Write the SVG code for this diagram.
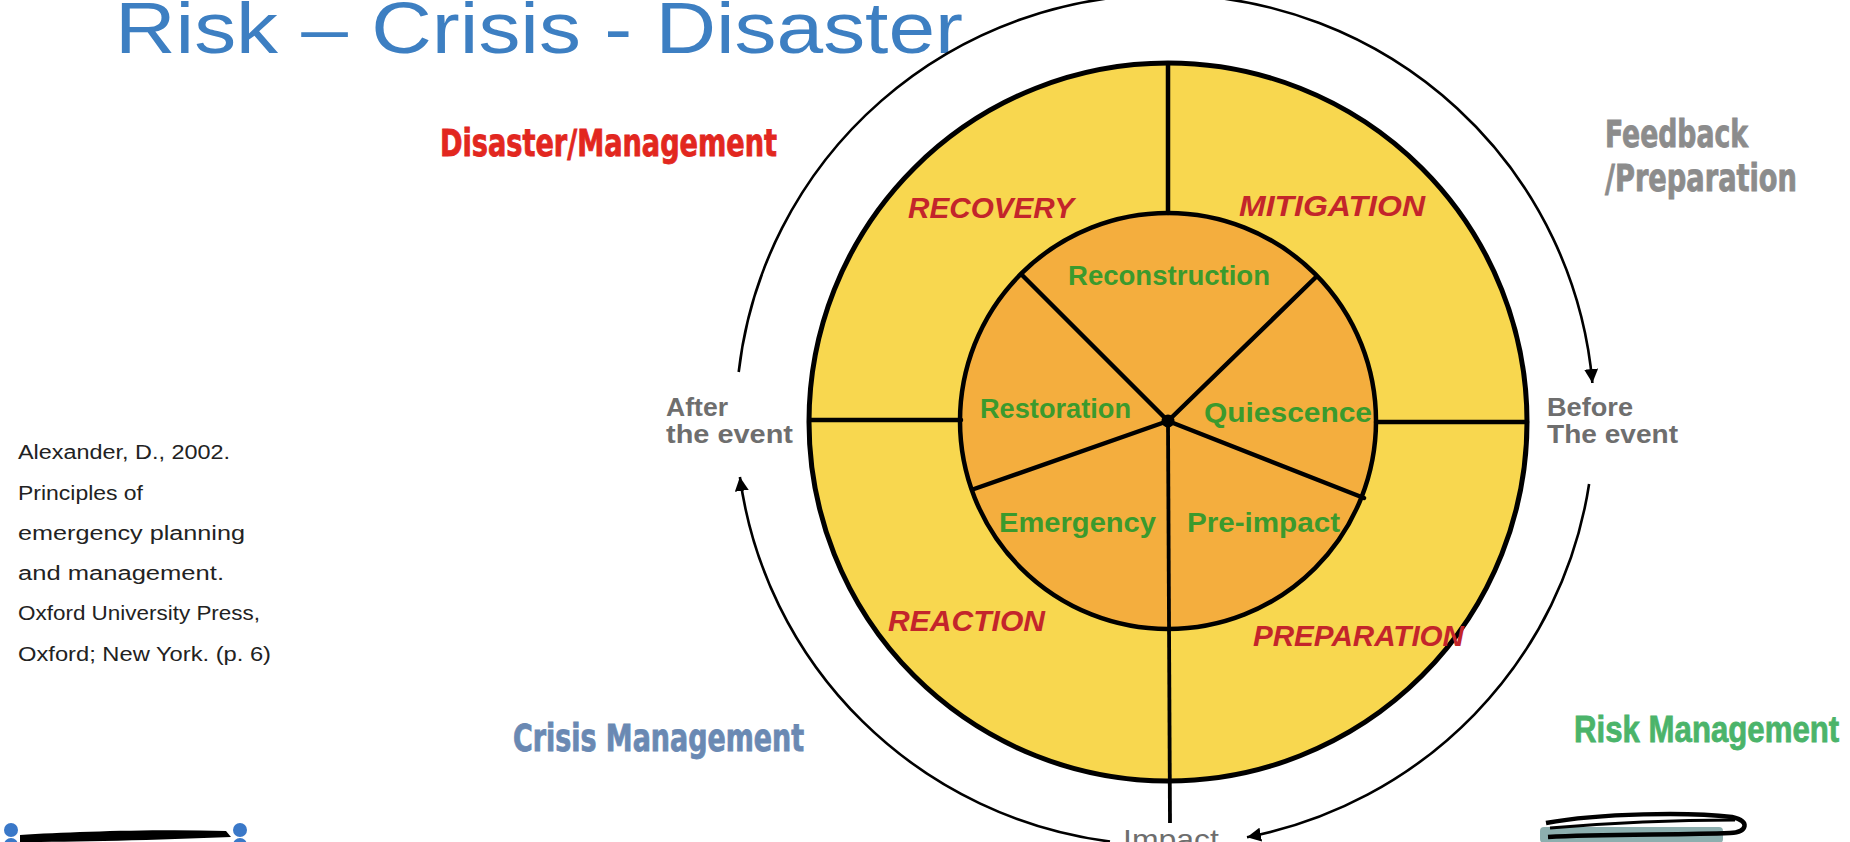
<svg xmlns="http://www.w3.org/2000/svg" width="1850" height="842" viewBox="0 0 1850 842">
<defs>
<marker id="ah" markerUnits="userSpaceOnUse" markerWidth="16" markerHeight="14" refX="14" refY="7" orient="auto">
<path d="M0,0 L14,7 L0,14 Z" fill="#000"/>
</marker>
<style>
.ring{font-family:"Liberation Sans",Arial,sans-serif;font-weight:bold;font-style:italic;font-size:30px;fill:#c3252b}
.phase{font-family:"Liberation Sans",Arial,sans-serif;font-weight:bold;font-size:27px;fill:#3b9a2d}
.mgmt{font-family:"Liberation Sans Narrow","DejaVu Sans Condensed","Liberation Sans",sans-serif;font-weight:bold;font-size:37px;stroke-width:0.8}
.when{font-family:"Liberation Sans",Arial,sans-serif;font-weight:bold;font-size:25px;fill:#6e6e6e}
.cite{font-family:"Liberation Sans",Arial,sans-serif;font-size:20px;fill:#222}
.arc{fill:none;stroke:#000;stroke-width:2.6}
.seg{stroke:#000;stroke-width:4.5;stroke-linecap:round}
</style>
</defs>
<rect width="1850" height="842" fill="#fff"/>

<text id="title" x="115" y="53" font-family="Liberation Sans, Arial, sans-serif" font-size="72" fill="#3d7fc2" textLength="848" lengthAdjust="spacingAndGlyphs">Risk – Crisis - Disaster</text>

<g id="citation" class="cite">
<text x="18" y="459" textLength="212" lengthAdjust="spacingAndGlyphs">Alexander, D., 2002.</text>
<text x="18" y="500" textLength="125" lengthAdjust="spacingAndGlyphs">Principles of</text>
<text x="18" y="540" textLength="227" lengthAdjust="spacingAndGlyphs">emergency planning</text>
<text x="18" y="580" textLength="206" lengthAdjust="spacingAndGlyphs">and management.</text>
<text x="18" y="620" textLength="242" lengthAdjust="spacingAndGlyphs">Oxford University Press,</text>
<text x="18" y="661" textLength="253" lengthAdjust="spacingAndGlyphs">Oxford; New York. (p. 6)</text>
</g>

<g id="disaster-management" class="mgmt" fill="#e2271f" stroke="#e2271f">
<text x="440" y="156" textLength="337" lengthAdjust="spacingAndGlyphs">Disaster/Management</text>
</g>
<g id="feedback-preparation" class="mgmt" fill="#8c8c8c" stroke="#8c8c8c">
<text x="1605" y="147" textLength="143" lengthAdjust="spacingAndGlyphs">Feedback</text>
<text x="1605" y="191" textLength="192" lengthAdjust="spacingAndGlyphs">/Preparation</text>
</g>
<g id="crisis-management" class="mgmt" fill="#6a89b3" stroke="#6a89b3">
<text x="513" y="751" textLength="291" lengthAdjust="spacingAndGlyphs">Crisis Management</text>
</g>
<g id="risk-management" class="mgmt" fill="#4bb46a" stroke="#4bb46a" transform="translate(1574,742) scale(0.85,1)">
<text x="0" y="0" font-family="Liberation Sans, Arial, sans-serif" textLength="312" lengthAdjust="spacingAndGlyphs">Risk Management</text>
</g>

<g id="after-event" class="when">
<text x="666" y="416" textLength="62" lengthAdjust="spacingAndGlyphs">After</text>
<text x="666" y="443" textLength="127" lengthAdjust="spacingAndGlyphs">the event</text>
</g>
<g id="before-event" class="when">
<text x="1547" y="416" textLength="86" lengthAdjust="spacingAndGlyphs">Before</text>
<text x="1547" y="443" textLength="131" lengthAdjust="spacingAndGlyphs">The event</text>
</g>

<g id="outer-ring">
<circle cx="1168" cy="422" r="359" fill="#f8d74f" stroke="#000" stroke-width="5"/>
</g>
<g id="inner-circle">
<circle cx="1168" cy="421" r="208" fill="#f4ae3e" stroke="#000" stroke-width="4.5"/>
</g>

<g id="connectors">
<line class="seg" x1="1168" y1="64" x2="1168" y2="213"/>
<line class="seg" x1="810" y1="420" x2="961" y2="420"/>
<line class="seg" x1="1376" y1="422" x2="1527" y2="422"/>
<line class="seg" x1="1168" y1="421" x2="1022" y2="275"/>
<line class="seg" x1="1168" y1="421" x2="1316" y2="277"/>
<line class="seg" x1="1168" y1="421" x2="974" y2="489"/>
<line class="seg" x1="1168" y1="421" x2="1364" y2="498"/>
<line x1="1168" y1="421" x2="1170" y2="823" stroke="#000" stroke-width="3.8"/>
<circle cx="1168" cy="421" r="6.5" fill="#000"/>
<path class="arc" d="M 738.7 372 A 429 425 0 0 1 1592.4 383" marker-end="url(#ah)"/>
<path class="arc" d="M 1110 841.5 A 429 425 0 0 1 739.9 477" marker-end="url(#ah)"/>
<path class="arc" d="M 1589.1 484 A 429 425 0 0 1 1247 837.2" marker-end="url(#ah)"/>
</g>

<g id="recovery" class="ring"><text x="908" y="218" textLength="166" lengthAdjust="spacingAndGlyphs">RECOVERY</text></g>
<g id="mitigation" class="ring"><text x="1239" y="216" textLength="186" lengthAdjust="spacingAndGlyphs">MITIGATION</text></g>
<g id="reaction" class="ring"><text x="888" y="631" textLength="157" lengthAdjust="spacingAndGlyphs">REACTION</text></g>
<g id="preparation" class="ring"><text x="1253" y="646" textLength="211" lengthAdjust="spacingAndGlyphs">PREPARATION</text></g>

<g id="reconstruction" class="phase"><text x="1068" y="285" textLength="202" lengthAdjust="spacingAndGlyphs">Reconstruction</text></g>
<g id="restoration" class="phase"><text x="980" y="418" textLength="151" lengthAdjust="spacingAndGlyphs">Restoration</text></g>
<g id="quiescence" class="phase"><text x="1204" y="422" textLength="168" lengthAdjust="spacingAndGlyphs">Quiescence</text></g>
<g id="emergency" class="phase"><text x="999" y="532" textLength="157" lengthAdjust="spacingAndGlyphs">Emergency</text></g>
<g id="pre-impact" class="phase"><text x="1187" y="532" textLength="153" lengthAdjust="spacingAndGlyphs">Pre-impact</text></g>

<g id="impact"><text x="1123" y="849" font-family="Liberation Sans, Arial, sans-serif" font-size="28" fill="#6e6e6e" textLength="96" lengthAdjust="spacingAndGlyphs">Impact</text></g>

<g id="redacted-left">
<circle cx="11" cy="830" r="7" fill="#3a78c8"/>
<circle cx="11" cy="845" r="7" fill="#3a78c8"/>
<circle cx="240" cy="830" r="7" fill="#3a78c8"/>
<circle cx="240" cy="845" r="7" fill="#3a78c8"/>
<path d="M 20 835 C 70 832 150 829 226 831 L 231 837 C 160 840 70 842 20 842 Z" fill="#000"/>
</g>
<g id="redacted-right">
<rect x="1540" y="827" width="183" height="16" rx="4" fill="#2f6e6e" opacity="0.55"/>
<path d="M 1546 823 C 1600 813 1690 812 1732 817 C 1750 821 1748 832 1730 833 C 1680 835 1600 834 1548 837" fill="none" stroke="#000" stroke-width="4.5"/>
<path d="M 1550 828 C 1620 822 1690 820 1735 820" fill="none" stroke="#000" stroke-width="3"/>
</g>
</svg>
